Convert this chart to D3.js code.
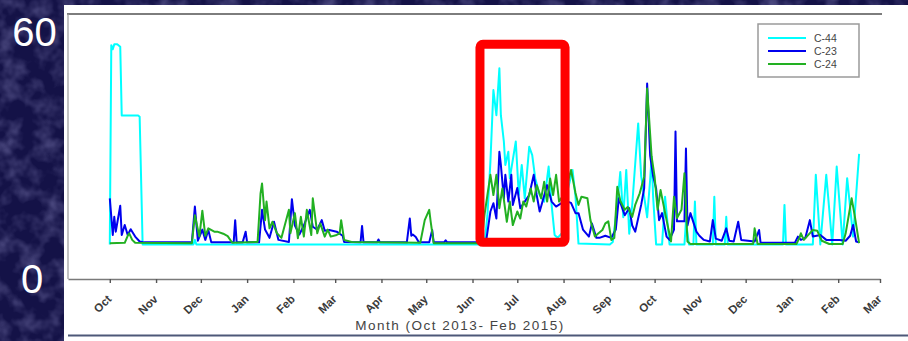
<!DOCTYPE html>
<html>
<head>
<meta charset="utf-8">
<script src="https://cdn.jsdelivr.net/npm/d3@7"></script>
<style>
  body { margin: 0; background: #16144a; }
  svg { display: block; font-family: Arial, "Liberation Sans", sans-serif; }
</style>
</head>
<body>
<svg id="chart"></svg>
<script>
const chartSize = { width: 908, height: 341 };
const plot = { left: 68, right: 880, top: 14, bottom: 279 };

const seriesNames = ["C-44", "C-23", "C-24"];
const seriesColors = ["#00ffff", "#0000ee", "#22b022"];
const yLabels = [60, 0];
const axisTitle = "Month (Oct 2013- Feb 2015)";
const dateRange = ["2013-09-03", "2015-03-01"];
const highlight = { from: "2014-06-06", to: "2014-08-02", low: 8.9, high: 57 };

const c44 = [
  ["2013-10-01", 8.4], ["2013-10-02", 56.8], ["2013-10-03", 55.8], ["2013-10-04", 57.0],
  ["2013-10-06", 57.0], ["2013-10-08", 56.4], ["2013-10-09", 39.7], ["2013-10-20", 39.7],
  ["2013-10-21", 39.4], ["2013-10-23", 8.4], ["2013-11-26", 8.4], ["2013-11-27", 9.5],
  ["2013-11-28", 8.4], ["2014-06-09", 8.4], ["2014-06-11", 15.5], ["2014-06-13", 28.5],
  ["2014-06-15", 45.9], ["2014-06-17", 39.8], ["2014-06-19", 51.2], ["2014-06-20", 39.8],
  ["2014-06-22", 33.4], ["2014-06-23", 27.7], ["2014-06-25", 30.9], ["2014-06-26", 24.5],
  ["2014-06-30", 33.4], ["2014-07-02", 20.4], ["2014-07-04", 27.7], ["2014-07-06", 19.6],
  ["2014-07-09", 32.1], ["2014-07-11", 30.1], ["2014-07-13", 24.5], ["2014-07-16", 20.4],
  ["2014-07-19", 18.8], ["2014-07-22", 27.3], ["2014-07-24", 18.0], ["2014-07-26", 10.7],
  ["2014-07-28", 10.0], ["2014-08-02", 12.0], ["2014-08-04", 22.0], ["2014-08-07", 26.5],
  ["2014-08-09", 20.0], ["2014-08-11", 8.6], ["2014-09-01", 8.4], ["2014-09-03", 9.0],
  ["2014-09-06", 18.0], ["2014-09-08", 26.0], ["2014-09-10", 15.0], ["2014-09-12", 26.5],
  ["2014-09-14", 11.0], ["2014-09-16", 18.0], ["2014-09-18", 28.0], ["2014-09-20", 37.8],
  ["2014-09-22", 25.0], ["2014-09-24", 20.0], ["2014-09-26", 15.0], ["2014-09-28", 24.0],
  ["2014-09-29", 29.7], ["2014-09-30", 20.0], ["2014-10-02", 8.4], ["2014-10-06", 8.4],
  ["2014-10-08", 20.0], ["2014-10-11", 8.4], ["2014-10-21", 8.4], ["2014-10-22", 14.0],
  ["2014-10-24", 8.4], ["2014-10-27", 8.4], ["2014-10-28", 18.8], ["2014-10-29", 8.4],
  ["2014-11-09", 8.4], ["2014-11-10", 20.0], ["2014-11-11", 8.4], ["2014-11-17", 8.4],
  ["2014-11-18", 15.1], ["2014-11-19", 8.4], ["2014-12-26", 8.4], ["2014-12-27", 18.0],
  ["2014-12-28", 8.4], ["2015-01-15", 8.4], ["2015-01-17", 25.3], ["2015-01-20", 8.4],
  ["2015-01-24", 25.3], ["2015-01-28", 8.4], ["2015-01-31", 27.3], ["2015-02-04", 8.4],
  ["2015-02-07", 24.5], ["2015-02-11", 10.3], ["2015-02-15", 30.4]
];

const c23 = [
  ["2013-10-01", 19.6], ["2013-10-03", 10.7], ["2013-10-04", 15.1], ["2013-10-05", 11.5],
  ["2013-10-08", 17.8], ["2013-10-09", 10.7], ["2013-10-11", 13.1], ["2013-10-13", 10.7],
  ["2013-10-15", 12.1], ["2013-10-18", 10.3], ["2013-10-21", 9.1], ["2013-10-24", 8.9],
  ["2013-11-25", 8.9], ["2013-11-27", 17.6], ["2013-11-29", 9.3], ["2013-12-02", 12.0],
  ["2013-12-04", 9.5], ["2013-12-06", 11.9], ["2013-12-08", 8.9], ["2013-12-23", 8.9],
  ["2013-12-24", 14.3], ["2013-12-25", 8.9], ["2013-12-29", 8.9], ["2013-12-31", 11.5],
  ["2014-01-01", 8.9], ["2014-01-09", 8.9], ["2014-01-11", 16.8], ["2014-01-13", 12.0],
  ["2014-01-16", 10.0], ["2014-01-19", 13.9], ["2014-01-22", 9.5], ["2014-01-29", 9.0],
  ["2014-01-31", 19.4], ["2014-02-02", 13.0], ["2014-02-05", 10.8], ["2014-02-08", 13.0],
  ["2014-02-12", 16.8], ["2014-02-14", 12.7], ["2014-02-17", 12.0], ["2014-02-20", 14.3],
  ["2014-02-22", 11.7], ["2014-02-25", 11.9], ["2014-03-02", 11.5], ["2014-03-06", 10.5],
  ["2014-03-07", 9.0], ["2014-03-18", 8.9], ["2014-03-19", 12.9], ["2014-03-20", 8.9],
  ["2014-03-29", 8.9], ["2014-03-30", 9.6], ["2014-03-31", 8.9], ["2014-04-18", 8.9],
  ["2014-04-20", 14.7], ["2014-04-21", 10.5], ["2014-04-22", 10.8], ["2014-04-24", 10.2],
  ["2014-04-26", 8.9], ["2014-05-03", 8.9], ["2014-05-05", 11.9], ["2014-05-06", 8.9],
  ["2014-05-13", 8.9], ["2014-05-14", 9.4], ["2014-05-15", 8.9], ["2014-06-10", 8.9],
  ["2014-06-13", 16.4], ["2014-06-15", 18.4], ["2014-06-17", 14.7], ["2014-06-19", 30.9],
  ["2014-06-20", 27.7], ["2014-06-22", 19.6], ["2014-06-23", 25.3], ["2014-06-25", 18.8],
  ["2014-06-27", 25.3], ["2014-06-28", 18.0], ["2014-07-01", 22.1], ["2014-07-03", 17.2],
  ["2014-07-06", 18.8], ["2014-07-09", 20.4], ["2014-07-12", 25.3], ["2014-07-14", 20.4],
  ["2014-07-16", 16.4], ["2014-07-21", 22.8], ["2014-07-24", 18.8], ["2014-07-27", 17.6],
  ["2014-08-02", 19.0], ["2014-08-06", 18.5], ["2014-08-09", 16.0], ["2014-08-11", 16.0],
  ["2014-08-14", 12.0], ["2014-08-18", 10.3], ["2014-08-20", 13.5], ["2014-08-23", 10.0],
  ["2014-08-25", 10.0], ["2014-08-29", 10.5], ["2014-09-02", 10.0], ["2014-09-05", 12.0],
  ["2014-09-07", 19.6], ["2014-09-11", 15.5], ["2014-09-14", 17.2], ["2014-09-16", 13.0],
  ["2014-09-18", 11.5], ["2014-09-22", 18.0], ["2014-09-24", 22.0], ["2014-09-26", 47.5],
  ["2014-09-28", 30.0], ["2014-09-30", 25.0], ["2014-10-02", 22.0], ["2014-10-04", 14.3],
  ["2014-10-06", 16.0], ["2014-10-09", 10.3], ["2014-10-11", 9.5], ["2014-10-14", 12.0],
  ["2014-10-15", 35.8], ["2014-10-16", 14.0], ["2014-10-19", 14.0], ["2014-10-21", 14.0],
  ["2014-10-22", 31.7], ["2014-10-23", 13.0], ["2014-10-25", 16.0], ["2014-10-29", 11.5],
  ["2014-10-31", 10.5], ["2014-11-03", 9.5], ["2014-11-07", 9.1], ["2014-11-09", 14.3],
  ["2014-11-11", 9.8], ["2014-11-15", 9.3], ["2014-11-18", 12.3], ["2014-11-20", 9.3],
  ["2014-11-23", 9.1], ["2014-11-26", 13.9], ["2014-11-28", 9.5], ["2014-12-07", 9.1],
  ["2014-12-10", 11.9], ["2014-12-11", 8.8], ["2015-01-03", 8.8], ["2015-01-05", 10.3],
  ["2015-01-07", 9.5], ["2015-01-10", 10.0], ["2015-01-13", 14.3], ["2015-01-15", 10.3],
  ["2015-01-20", 10.7], ["2015-01-24", 9.5], ["2015-02-02", 9.5], ["2015-02-06", 9.3],
  ["2015-02-09", 10.5], ["2015-02-11", 13.1], ["2015-02-13", 9.1], ["2015-02-15", 8.9]
];

const c24 = [
  ["2013-10-01", 8.7], ["2013-10-11", 8.8], ["2013-10-13", 10.5], ["2013-10-14", 11.1],
  ["2013-10-16", 9.5], ["2013-10-18", 8.8], ["2013-11-25", 8.7], ["2013-11-27", 15.5],
  ["2013-11-30", 10.3], ["2013-12-02", 16.6], ["2013-12-04", 10.5], ["2013-12-06", 12.3],
  ["2013-12-10", 11.5], ["2013-12-12", 11.5], ["2013-12-16", 11.0], ["2013-12-19", 10.4],
  ["2013-12-22", 8.8], ["2014-01-08", 9.0], ["2014-01-10", 20.8], ["2014-01-11", 23.2],
  ["2014-01-13", 14.3], ["2014-01-14", 18.8], ["2014-01-16", 12.3], ["2014-01-18", 13.9],
  ["2014-01-21", 11.1], ["2014-01-24", 10.0], ["2014-01-29", 16.8], ["2014-01-30", 11.1],
  ["2014-02-02", 16.0], ["2014-02-04", 9.9], ["2014-02-06", 15.1], ["2014-02-08", 10.3],
  ["2014-02-10", 16.8], ["2014-02-13", 10.7], ["2014-02-14", 19.6], ["2014-02-17", 11.1],
  ["2014-02-19", 13.5], ["2014-02-22", 10.3], ["2014-02-24", 12.0], ["2014-02-26", 10.3],
  ["2014-03-02", 10.7], ["2014-03-04", 11.1], ["2014-03-05", 14.3], ["2014-03-07", 9.5],
  ["2014-03-12", 9.0], ["2014-04-27", 8.8], ["2014-04-30", 14.3], ["2014-05-03", 16.8],
  ["2014-05-04", 13.9], ["2014-05-06", 8.7], ["2014-06-07", 8.7], ["2014-06-09", 15.5],
  ["2014-06-11", 20.4], ["2014-06-13", 25.3], ["2014-06-15", 20.4], ["2014-06-17", 25.3],
  ["2014-06-19", 17.2], ["2014-06-21", 22.0], ["2014-06-24", 13.9], ["2014-06-26", 18.8],
  ["2014-06-28", 13.1], ["2014-07-01", 16.4], ["2014-07-03", 14.7], ["2014-07-05", 18.8],
  ["2014-07-07", 17.6], ["2014-07-10", 22.0], ["2014-07-12", 18.8], ["2014-07-14", 22.8],
  ["2014-07-17", 19.6], ["2014-07-19", 23.6], ["2014-07-21", 18.8], ["2014-07-23", 24.4],
  ["2014-07-25", 20.4], ["2014-07-27", 25.3], ["2014-07-29", 18.8], ["2014-08-02", 21.0],
  ["2014-08-06", 26.5], ["2014-08-09", 20.9], ["2014-08-11", 18.0], ["2014-08-13", 20.0],
  ["2014-08-17", 19.6], ["2014-08-19", 14.3], ["2014-08-22", 10.3], ["2014-08-24", 11.0],
  ["2014-08-27", 11.9], ["2014-08-29", 13.5], ["2014-08-31", 14.0], ["2014-09-02", 9.5],
  ["2014-09-04", 10.0], ["2014-09-06", 22.4], ["2014-09-08", 19.0], ["2014-09-11", 16.8],
  ["2014-09-13", 17.5], ["2014-09-16", 15.1], ["2014-09-18", 18.0], ["2014-09-21", 20.8],
  ["2014-09-24", 24.8], ["2014-09-26", 46.3], ["2014-09-29", 29.7], ["2014-10-01", 24.8],
  ["2014-10-03", 16.8], ["2014-10-05", 21.6], ["2014-10-09", 14.3], ["2014-10-12", 9.1],
  ["2014-10-14", 20.0], ["2014-10-16", 14.8], ["2014-10-19", 16.8], ["2014-10-21", 25.7],
  ["2014-10-23", 9.1], ["2014-10-25", 8.5], ["2014-12-06", 8.5], ["2014-12-07", 12.3],
  ["2014-12-09", 8.5], ["2015-01-04", 8.5], ["2015-01-06", 10.0], ["2015-01-07", 11.1],
  ["2015-01-09", 9.5], ["2015-01-12", 10.7], ["2015-01-15", 11.9], ["2015-01-18", 11.7],
  ["2015-01-21", 9.3], ["2015-01-26", 8.5], ["2015-02-04", 8.5], ["2015-02-06", 11.1],
  ["2015-02-10", 19.6], ["2015-02-12", 15.5], ["2015-02-15", 8.7]
];

const parseDate = d3.timeParse("%Y-%m-%d");

const drawBackground = svg => {
  const filter = svg.append("defs").append("filter")
    .attr("id", "grain").attr("x", 0).attr("y", 0).attr("width", "100%").attr("height", "100%");
  filter.append("feTurbulence")
    .attr("type", "fractalNoise").attr("baseFrequency", 0.05)
    .attr("numOctaves", 3).attr("seed", 7);
  filter.append("feColorMatrix")
    .attr("type", "matrix")
    .attr("values", "0 0 0 0 0.24  0 0 0 0 0.23  0 0 0 0 0.50  1.1 0 0 0 -0.45");

  svg.append("rect").attr("width", chartSize.width).attr("height", chartSize.height).attr("fill", "#141247");
  svg.append("rect").attr("width", chartSize.width).attr("height", chartSize.height).attr("filter", "url(#grain)");

  // white slide panel
  svg.append("rect").attr("x", 64).attr("y", 5)
    .attr("width", chartSize.width - 64).attr("height", chartSize.height - 5).attr("fill", "#fff");
  svg.append("line").attr("x1", 67).attr("x2", 882).attr("y1", 14).attr("y2", 14)
    .attr("stroke", "#7d7d7d").attr("stroke-width", 2.2);
  svg.append("line").attr("x1", 68).attr("x2", chartSize.width).attr("y1", 335.5).attr("y2", 335.5)
    .attr("stroke", "#4d5878").attr("stroke-width", 2);
  svg.append("line").attr("x1", 68).attr("x2", 68).attr("y1", plot.top).attr("y2", plot.bottom)
    .attr("stroke", "#9a9a9a").attr("stroke-width", 1.2);
};

const drawChart = () => {
  const svg = d3.select("#chart").attr("width", chartSize.width).attr("height", chartSize.height);
  drawBackground(svg);

  const xScale = d3.scaleTime()
    .domain(dateRange.map(parseDate))
    .range([plot.left, plot.right]);

  const yScale = d3.scaleLinear().domain([0, 60]).range([plot.bottom, 32]);

  // big white value labels on the slide
  svg.selectAll(".ylab").data(yLabels).enter().append("text")
    .attr("class", "ylab")
    .attr("x", d => (d === 0 ? 32 : 34.5))
    .attr("y", d => yScale(d))
    .attr("dy", "0.36em")
    .attr("text-anchor", "middle")
    .attr("fill", "#fff")
    .attr("font-size", 40)
    .text(d => d);

  const xAxis = d3.axisBottom(xScale)
    .ticks(d3.timeMonth.every(1))
    .tickFormat(d3.timeFormat("%b"))
    .tickSizeInner(4)
    .tickSizeOuter(0);

  const axisG = svg.append("g")
    .attr("transform", `translate(0, ${plot.bottom})`)
    .call(xAxis);
  axisG.select(".domain").attr("stroke", "#7a7a7a").attr("stroke-width", 1.6);
  axisG.selectAll(".tick line").attr("stroke", "#555").attr("stroke-width", 1.4);
  axisG.selectAll(".tick text")
    .attr("x", 0).attr("y", 0).attr("dy", "0.35em")
    .attr("transform", "translate(-1, 18) rotate(-45)")
    .attr("text-anchor", "end")
    .attr("font-size", 11.5)
    .attr("font-weight", "bold")
    .attr("fill", "#3a3a3a");

  svg.append("text")
    .attr("x", 460).attr("y", 330)
    .attr("text-anchor", "middle")
    .attr("font-size", 13.5)
    .attr("letter-spacing", 1.5)
    .attr("fill", "#444")
    .text(axisTitle);

  const line = d3.line()
    .x(d => xScale(parseDate(d[0])))
    .y(d => yScale(d[1]));

  const series = [c44, c23, c24];
  svg.selectAll(".series").data(series).enter().append("path")
    .attr("class", "series")
    .attr("d", line)
    .attr("fill", "none")
    .attr("stroke", (d, i) => seriesColors[i])
    .attr("stroke-width", 2)
    .attr("stroke-linejoin", "round");

  // red highlight box
  const hx0 = xScale(parseDate(highlight.from));
  const hx1 = xScale(parseDate(highlight.to));
  svg.append("rect")
    .attr("x", hx0).attr("y", yScale(highlight.high))
    .attr("width", hx1 - hx0).attr("height", yScale(highlight.low) - yScale(highlight.high))
    .attr("rx", 3)
    .attr("fill", "none").attr("stroke", "#ff0000").attr("stroke-width", 9);

  // legend
  const legend = svg.append("g").attr("transform", "translate(758, 24)");
  legend.append("rect").attr("width", 101).attr("height", 53)
    .attr("fill", "#fff").attr("stroke", "#9a9a9a").attr("stroke-width", 1.5);
  const rows = legend.selectAll(".row").data(seriesNames).enter().append("g")
    .attr("transform", (d, i) => `translate(0, ${14 + i * 13})`);
  rows.append("line").attr("x1", 10).attr("x2", 48)
    .attr("stroke", (d, i) => seriesColors[i]).attr("stroke-width", 2);
  rows.append("text").attr("x", 56).attr("dy", "0.35em")
    .attr("font-size", 10.5).attr("fill", "#444").text(d => d);
};

window.onload = drawChart;
</script>
</body>
</html>
